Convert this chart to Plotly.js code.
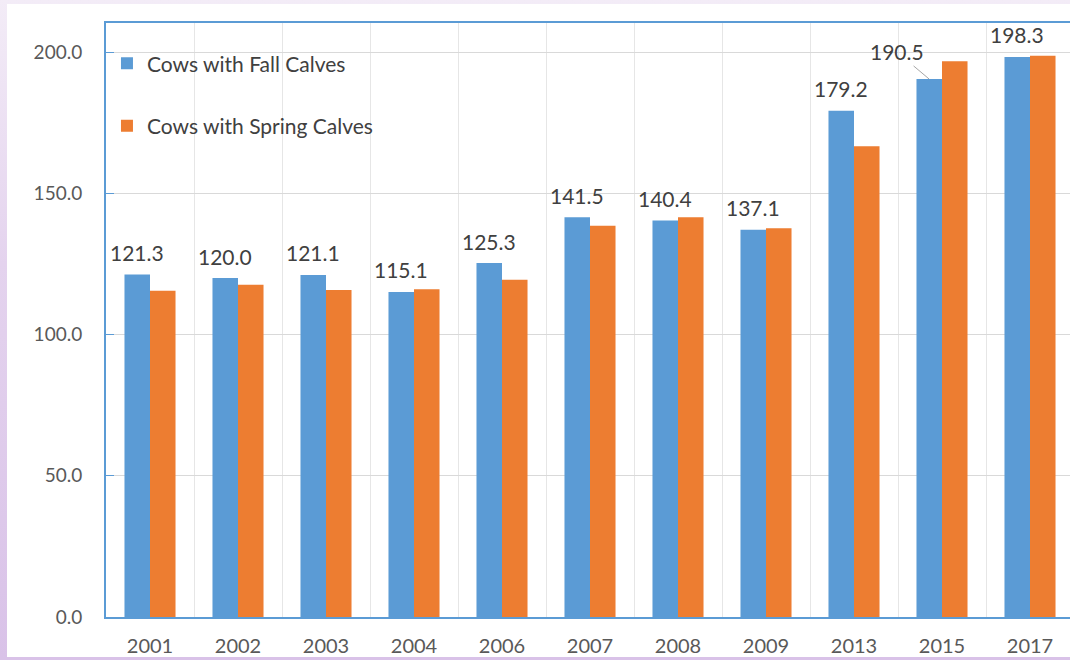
<!DOCTYPE html>
<html>
<head>
<meta charset="utf-8">
<script src="https://cdn.plot.ly/plotly-3.0.1.min.js"></script>
<style>
html,body{margin:0;padding:0;width:1070px;height:660px;overflow:hidden;
background:linear-gradient(to bottom,#f3ecf7 0%,#e4d3ee 40%,#d9c2e8 100%);}
#chart{position:absolute;left:7px;top:4px;width:1080px;height:653px;}
</style>
</head>
<body>
<div id="chart"></div>
<script>
const years = ["2001","2002","2003","2004","2006","2007","2008","2009","2013","2015","2017"];
const fallCalves = [121.3,120.0,121.1,115.1,125.3,141.5,140.4,137.1,179.2,190.5,198.3];
const springCalves = [115.5,117.6,115.8,116.0,119.4,138.5,141.5,137.6,166.7,196.8,198.7];
const seriesNames = ["Cows with Fall Calves","Cows with Spring Calves"];

const blue = "#5b9bd5", orange = "#ed7d31";
const font = "Lato, 'Open Sans', sans-serif";

const traces = [
  {type:"bar", name:seriesNames[0], x:years, y:fallCalves, marker:{color:blue}, legendgroup:"a", hoverinfo:"x+y"},
  {type:"bar", name:seriesNames[1], x:years, y:springCalves, marker:{color:orange}, legendgroup:"b", hoverinfo:"x+y"}
];

const annotations = years.map((yr,i)=>{
  if (yr === "2015") {
    return {x:i, y:fallCalves[i], xref:"x", yref:"y", text:fallCalves[i].toFixed(1),
      xshift:-13, showarrow:true, arrowhead:0, arrowwidth:1, arrowcolor:"#a6a6a6",
      ax:-32, ay:-27, font:{family:font,size:21,color:"#404040"}};
  }
  return {x:i, y:fallCalves[i], xref:"x", yref:"y", text:fallCalves[i].toFixed(1),
    xshift:-13, yshift:22, showarrow:false, font:{family:font,size:21,color:"#404040"}};
});

const layout = {
  width:1080, height:653,
  margin:{l:99, r:13, t:19, b:40},
  paper_bgcolor:"#ffffff", plot_bgcolor:"#ffffff",
  barmode:"group", bargap:0.42, bargroupgap:0,
  showlegend:true,
  legend:{x:0.001, y:0.966, xanchor:"left", yanchor:"top", bgcolor:"rgba(0,0,0,0)",
    font:{family:font,size:21,color:"#404040"}, traceorder:"grouped", tracegroupgap:32,
    itemwidth:30},
  xaxis:{type:"category", range:[-0.5,10.5], tickson:"boundaries", showgrid:true, gridcolor:"#e6e6e6", gridwidth:1,
    showline:true, linecolor:blue, linewidth:2, mirror:true, ticks:"",
    ticklabelstandoff:10,
    tickfont:{family:font,size:20,color:"#595959"}},
  yaxis:{range:[0,210.3], dtick:50, tickformat:".1f", showgrid:true, gridcolor:"#d9d9d9", gridwidth:1,
    zeroline:false, showline:true, linecolor:blue, linewidth:2, ticks:"inside", ticklen:8,
    tickcolor:blue, tickwidth:1, ticklabelstandoff:18,
    tickfont:{family:font,size:19,color:"#595959"}},
  annotations:annotations
};

Plotly.newPlot("chart", traces, layout, {displayModeBar:false, responsive:false});
</script>
</body>
</html>
